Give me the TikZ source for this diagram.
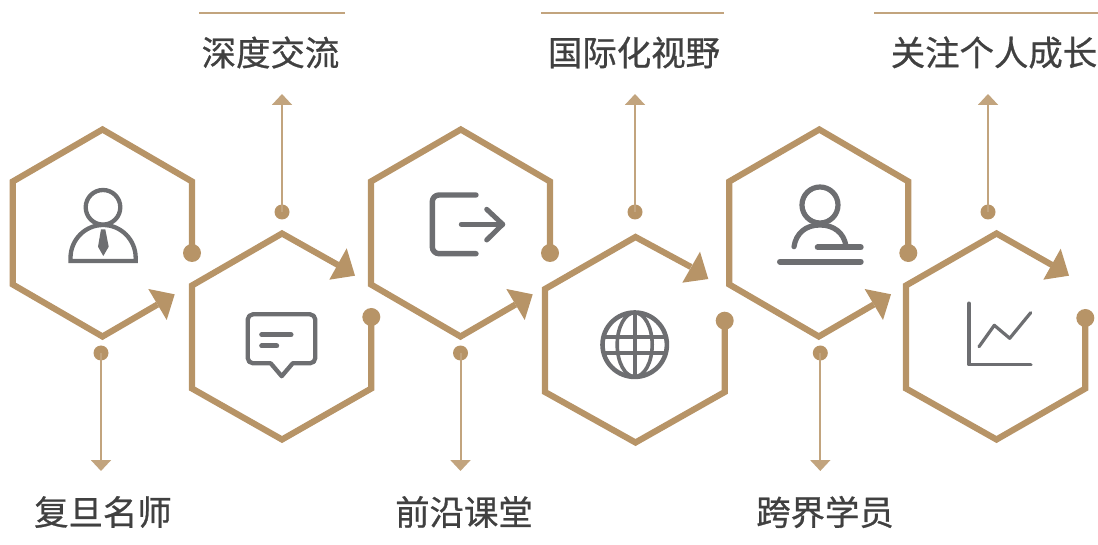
\documentclass[tikz,border=0pt]{standalone}
\usepackage{fontspec}
\setmainfont{Noto Sans CJK SC}[FakeBold=0.7]
\usetikzlibrary{arrows.meta}
\definecolor{gold}{HTML}{B79467}
\definecolor{goldlight}{HTML}{C2A47E}
\definecolor{icongrey}{HTML}{6D6E71}
\definecolor{labelgrey}{HTML}{404040}
\tikzset{
  hexline/.style={draw=gold,line width=6.2pt,miter limit=10,line join=miter},
  headfill/.style={fill=gold},
  bigdot/.style={circle,fill=gold,inner sep=0pt,minimum size=18pt},
  smalldot/.style={circle,fill=gold,inner sep=0pt,minimum size=15pt},
  lead/.style={draw=goldlight,line width=2pt,-{Triangle[length=11pt,width=20pt,fill=gold!85!white]}},
  toprule/.style={draw=goldlight,line width=1.6pt},
  caption/.style={text=labelgrey,font=\fontsize{34.4}{34.4}\selectfont,inner sep=0pt,anchor=center},
  ic/.style={draw=icongrey,line width=4.3pt,line cap=round,line join=round},
}
\begin{document}
\begin{tikzpicture}[x=1pt,y=-1pt]
\useasboundingbox (0,0) rectangle (1098,545);
% dots
\node[bigdot] (b1) at (192,253) {};
\node[bigdot] (b2) at (371.3,317) {};
\node[bigdot] (b3) at (550,253) {};
\node[bigdot] (b4) at (724.7,320.7) {};
\node[bigdot] (b5) at (908.3,253) {};
\node[bigdot] (b6) at (1085.3,318) {};
\node[smalldot] (s1) at (101,353) {};
\node[smalldot] (s2) at (282,212) {};
\node[smalldot] (s3) at (460.5,353) {};
\node[smalldot] (s4) at (635,212) {};
\node[smalldot] (s5) at (820.3,353) {};
\node[smalldot] (s6) at (988,212) {};
% hexagons
\draw[hexline] (b1.center) -- (192,181.5) -- (102.5,129.5) -- (12.8,181.5) -- (12.8,284.5) -- (102.5,336.5) -- (157.5,304.5);
\fill[headfill] (148.3,289) -- (174.7,294.3) -- (166.7,320) -- cycle;
\draw[hexline] (b2.center) -- (371.3,388.5) -- (282,439.5) -- (192,388.5) -- (192,285.5) -- (282,233.5) -- (338,265);
\fill[headfill] (346.7,248.3) -- (355,275.7) -- (329.3,279.7) -- cycle;
\draw[hexline] (b3.center) -- (550,181.5) -- (460.8,129.5) -- (371,181.5) -- (371,284.5) -- (460.5,336.5) -- (515.5,304.5);
\fill[headfill] (506.3,289) -- (532.7,294.3) -- (524.7,320) -- cycle;
\draw[hexline] (b4.center) -- (724.7,392) -- (635.5,442.5) -- (545,392) -- (545,289) -- (635.5,237) -- (691,267);
\fill[headfill] (700,251.7) -- (708.3,279) -- (682.3,282.7) -- cycle;
\draw[hexline] (b5.center) -- (908.3,181.5) -- (819.3,129.5) -- (729.3,181.5) -- (729.3,284.5) -- (818.8,336.5) -- (873.8,304.5);
\fill[headfill] (864.6,289) -- (891,294.3) -- (883,320) -- cycle;
\draw[hexline] (b6.center) -- (1085.3,388.5) -- (996.5,439.5) -- (906,388.5) -- (906,285.5) -- (996.5,233.5) -- (1052,265);
\fill[headfill] (1060.7,248.7) -- (1069,275.7) -- (1043.3,279.7) -- cycle;
% leads
\coordinate (e1) at (101,471);
\coordinate (e2) at (282,94);
\coordinate (e3) at (460.5,471);
\coordinate (e4) at (635,94);
\coordinate (e5) at (820.3,471);
\coordinate (e6) at (988,94);
\foreach \i in {1,...,6}{\draw[lead] (s\i.center) -- (e\i);}
% rules
\coordinate (r1a) at (199,13); \coordinate (r1b) at (345,13);
\coordinate (r2a) at (541,13); \coordinate (r2b) at (724,13);
\coordinate (r3a) at (874,13); \coordinate (r3b) at (1098,13);
\draw[toprule] (r1a) -- (r1b);
\draw[toprule] (r2a) -- (r2b);
\draw[toprule] (r3a) -- (r3b);
% captions
\node[caption] (t1) at (103,512) {复旦名师};
\node[caption] (t2) at (270.5,52.5) {深度交流};
\node[caption] (t3) at (464,512) {前沿课堂};
\node[caption] (t4) at (634,52.5) {国际化视野};
\node[caption] (t5) at (825,512) {跨界学员};
\node[caption] (t6) at (994,52.5) {关注个人成长};
% icon 1
\draw[ic] (103,207.3) circle (17.3);
\draw[ic,line cap=butt,line join=miter] (70.5,261) -- (70.5,258) arc[start angle=180,end angle=360,x radius=32.6,y radius=33] -- (135.7,261) -- cycle;
\fill[icongrey] (101,229.3) -- (105.3,229.3) -- (108.7,246.7) -- (103.3,256) -- (98,246.7) -- cycle;
% icon 2
\draw[ic] (270.7,363.3) -- (253,363.3) arc[start angle=90,end angle=180,radius=5.3] -- (247.7,319.6) arc[start angle=180,end angle=270,radius=5.3] -- (310,314.3) arc[start angle=-90,end angle=0,radius=5.3] -- (315.3,358) arc[start angle=0,end angle=90,radius=5.3] -- (292.7,363.3) -- (281.7,376.2) -- cycle;
\draw[ic,line width=5pt] (261.7,334.7) -- (291,334.7);
\draw[ic,line width=5pt] (261.7,346) -- (276.7,346);
% icon 3
\draw[ic,line width=5.4pt] (476,195) -- (439,195) arc[start angle=270,end angle=180,radius=6.7] -- (432.3,247) arc[start angle=180,end angle=90,radius=6.7] -- (476,253.7);
\draw[ic,line width=5pt] (461.3,224.3) -- (502.7,224.3);
\draw[ic,line width=5pt] (486.7,209.3) -- (502.7,224.3) -- (486.7,240);
% icon 4
\begin{scope}
\clip (634.7,344.7) circle (32);
\draw[ic,line cap=butt] (634.7,310) -- (634.7,380);
\draw[ic,line cap=butt] (600,336.7) -- (670,336.7);
\draw[ic,line cap=butt] (600,353.3) -- (670,353.3);
\draw[ic,line width=3.6pt] (634.7,344.7) ellipse [x radius=17.5,y radius=32];
\end{scope}
\draw[ic,line width=4.6pt] (634.7,344.7) circle (32.2);
% icon 5
\draw[ic,line width=5.2pt] (820,205) circle (18);
\draw[ic,line width=5.2pt] (794,246.7) .. controls (796,233) and (806,225) .. (820,225) .. controls (834,225) and (844,233) .. (846,246);
\draw[ic,line width=6pt] (817.7,247.3) -- (860.7,247.3);
\draw[ic,line width=6pt] (780,261.7) -- (860.7,261.7);
% icon 6
\draw[ic,line width=3.6pt] (969,303.3) -- (969,364.7) -- (1030.7,364.7);
\draw[ic,line width=3.2pt] (979,346.7) -- (994.3,325.3) -- (1009.7,338.3) -- (1030.7,312.7);
\end{tikzpicture}
\end{document}
